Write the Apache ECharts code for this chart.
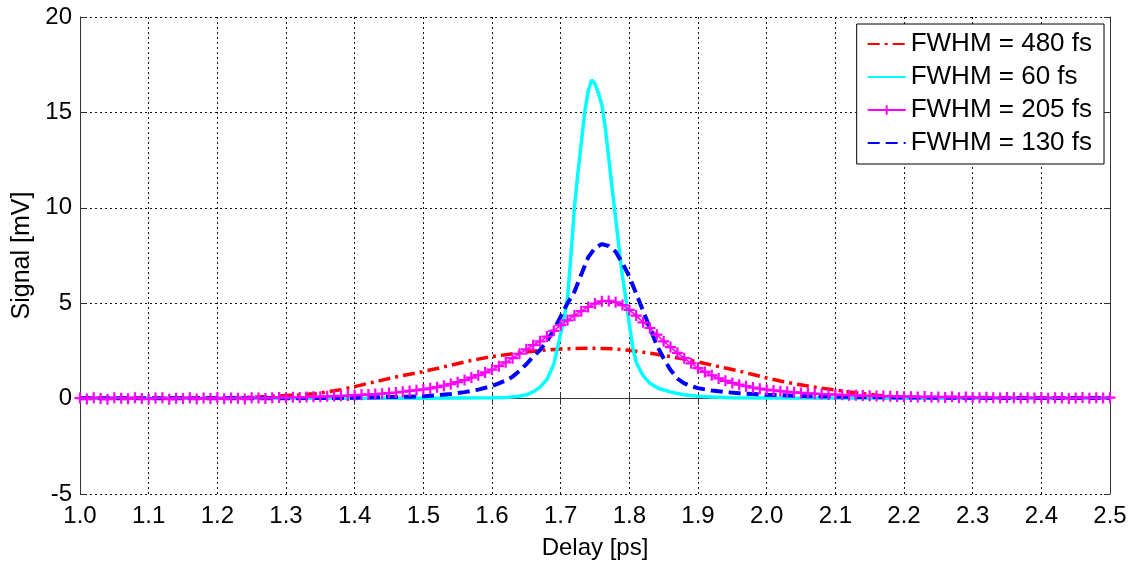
<!DOCTYPE html>
<html><head><meta charset="utf-8">
<script src="https://cdn.jsdelivr.net/npm/echarts@6/dist/echarts.min.js"></script>
<style>html,body{margin:0;padding:0;background:#fff}#c{width:1139px;height:565px}</style>
</head><body><div id="c"></div>
<script>
// ---- data ----
const seriesNames = ['FWHM = 480 fs', 'FWHM = 60 fs', 'FWHM = 205 fs', 'FWHM = 130 fs'];
const xTickLabels = ['1.0','1.1','1.2','1.3','1.4','1.5','1.6','1.7','1.8','1.9','2.0','2.1','2.2','2.3','2.4','2.5'];
const yTickLabels = ['-5','0','5','10','15','20'];

const redT = [1.00,1.10,1.15,1.20,1.22,1.24,1.26,1.28,1.30,1.32,1.34,1.36,1.38,1.40,
  1.42,1.44,1.46,1.48,1.50,1.52,1.54,1.56,1.58,1.60,1.62,1.64,1.66,1.68,1.70,1.72,1.74,1.76,1.78,1.80,
  1.82,1.84,1.86,1.88,1.90,1.92,1.94,1.96,1.98,2.00,2.02,2.04,2.06,2.08,2.10,2.12,2.14,2.16,2.18,2.20,
  2.22,2.25,2.30,2.40,2.50];
const redV = [0.02,0.02,0.02,0.03,0.04,0.06,0.09,0.12,0.16,0.20,0.25,0.35,0.47,0.63,
  0.80,0.97,1.13,1.28,1.42,1.58,1.75,1.92,2.07,2.20,2.30,2.40,2.48,2.55,2.60,2.62,2.64,2.63,2.60,2.53,
  2.43,2.32,2.20,2.07,1.92,1.76,1.60,1.44,1.26,1.08,0.92,0.78,0.66,0.55,0.45,0.35,0.26,0.18,0.12,0.08,
  0.05,0.03,0.02,0.02,0.02];

const cyanT = [1.00,1.20,1.40,1.50,1.55,1.60,1.62,1.64,
  1.65,1.66,1.67,1.68,1.69,1.70,
  1.705,1.71,1.715,1.72,1.725,1.73,1.735,1.74,1.745,1.75,1.755,1.76,1.765,1.77,1.775,1.78,1.785,1.79,1.795,1.80,1.805,1.81,
  1.82,1.83,1.84,1.85,1.86,1.87,1.88,
  1.90,1.92,1.95,2.00,2.20,2.50];
const cyanV = [0.02,0.02,0.02,0.02,0.03,0.04,0.06,0.12,
  0.20,0.35,0.60,1.00,1.80,3.40,
  4.2,5.3,7.5,10.0,11.8,13.4,15.0,16.1,16.7,16.5,16.0,15.4,14.2,12.6,11.0,9.5,7.9,6.4,5.2,3.9,2.7,1.9,
  1.20,0.80,0.58,0.45,0.35,0.27,0.20,
  0.12,0.08,0.05,0.03,0.02,0.02];

const pinkT = [
  1.00,1.01,1.02,1.03,1.04,1.05,1.06,1.07,1.08,1.09,
  1.10,1.11,1.12,1.13,1.14,1.15,1.16,1.17,1.18,1.19,
  1.20,1.21,1.22,1.23,1.24,1.25,1.26,1.27,1.28,1.29,
  1.30,1.31,1.32,1.33,1.34,1.35,1.36,1.37,1.38,1.39,
  1.40,1.41,1.42,1.43,1.44,1.45,1.46,1.47,1.48,1.49,
  1.50,1.51,1.52,1.53,1.54,1.55,1.56,1.57,1.58,1.59,
  1.60,1.61,1.62,1.63,1.64,1.65,1.66,1.67,1.68,1.69,
  1.70,1.71,1.72,1.73,1.74,1.75,1.76,1.77,1.78,1.79,
  1.80,1.81,1.82,1.83,1.84,1.85,1.86,1.87,1.88,1.89,
  1.90,1.91,1.92,1.93,1.94,1.95,1.96,1.97,1.98,1.99,
  2.00,2.01,2.02,2.03,2.04,2.05,2.06,2.07,2.08,2.09,
  2.10,2.11,2.12,2.13,2.14,2.15,2.16,2.17,2.18,2.19,
  2.20,2.21,2.22,2.23,2.24,2.25,2.26,2.27,2.28,2.29,
  2.30,2.31,2.32,2.33,2.34,2.35,2.36,2.37,2.38,2.39,
  2.40,2.41,2.42,2.43,2.44,2.45,2.46,2.47,2.48,2.49,
  2.50];
const pinkV = [
  0.03,-0.02,0.05,0.01,-0.03,0.04,0.02,-0.01,0.05,0.00,
  -0.02,0.03,0.04,-0.03,0.02,0.01,0.05,-0.02,0.03,0.00,
  0.04,-0.01,0.03,0.02,-0.02,0.05,0.03,0.01,0.04,0.06,
  0.05,0.07,0.06,0.08,0.10,0.10,0.12,0.13,0.15,0.16,
  0.18,0.20,0.22,0.24,0.26,0.29,0.32,0.36,0.40,0.44,
  0.48,0.54,0.60,0.68,0.76,0.86,0.97,1.10,1.23,1.37,
  1.52,1.70,1.90,2.12,2.35,2.58,2.80,3.00,3.25,3.55,
  3.85,4.10,4.35,4.58,4.80,4.98,5.10,5.12,5.05,4.90,
  4.65,4.35,4.00,3.70,3.35,3.00,2.70,2.40,2.12,1.85,
  1.60,1.40,1.22,1.06,0.93,0.82,0.73,0.65,0.58,0.52,
  0.47,0.43,0.39,0.36,0.33,0.30,0.28,0.26,0.24,0.22,
  0.21,0.20,0.18,0.17,0.16,0.15,0.14,0.13,0.12,0.11,
  0.10,0.10,0.08,0.11,0.07,0.09,0.06,0.10,0.05,0.08,
  0.06,0.04,0.07,0.05,0.03,0.06,0.04,0.02,0.05,0.03,
  0.06,0.02,0.04,0.05,0.01,0.03,0.06,0.02,0.04,0.03,
  0.05];

const blueT = [1.00,1.10,1.20,1.30,1.35,1.40,1.45,1.48,
  1.50,1.52,1.54,1.56,1.58,
  1.60,1.61,1.62,1.63,1.64,1.65,1.66,1.67,1.68,1.69,1.70,1.71,1.72,1.73,1.74,1.75,1.76,1.77,1.78,1.79,
  1.80,1.81,1.82,1.83,1.84,1.85,1.86,1.87,1.88,1.89,1.90,
  1.92,1.94,1.96,1.98,2.00,
  2.05,2.10,2.20,2.30,2.40,2.50];
const blueV = [0.02,0.02,0.02,0.02,0.03,0.05,0.08,0.10,
  0.12,0.17,0.24,0.34,0.47,
  0.66,0.80,0.95,1.15,1.45,1.80,2.20,2.55,3.00,3.60,4.30,5.00,5.60,6.50,7.40,7.90,8.10,8.00,7.70,7.10,
  6.40,5.50,4.60,3.70,2.80,2.10,1.50,1.05,0.80,0.65,0.55,
  0.42,0.34,0.28,0.24,0.20,
  0.14,0.10,0.06,0.04,0.03,0.03];

// ---- chart ----
const zip = (t, v) => t.map((x, i) => [x, v[i]]);
const FONT = 'Liberation Sans, Arial, sans-serif';
const gridLine = {show: true, lineStyle: {color: '#111', width: 1, type: [2, 3]}};
const axisLineStyle = {show: true, lineStyle: {color: '#333', width: 1}};
const plusPath = 'path://M4,0h2v10h-2z M0,4h10v2h-10z';

const chart = echarts.init(document.getElementById('c'), null, {renderer: 'canvas'});
chart.setOption({
  animation: false,
  backgroundColor: '#fff',
  textStyle: {fontFamily: FONT},
  grid: {left: 80, right: 29, top: 17, bottom: 64, containLabel: false},
  legend: {
    orient: 'vertical', right: 35, top: 24,
    data: seriesNames,
    itemWidth: 38, itemHeight: 12, itemGap: 7,
    padding: [7, 12, 8, 10],
    backgroundColor: '#fff', borderColor: '#000', borderWidth: 1,
    textStyle: {fontSize: 26, color: '#000', fontFamily: FONT}
  },
  xAxis: [{
    type: 'value', min: 1.0, max: 2.5, interval: 0.1,
    name: 'Delay [ps]', nameLocation: 'middle', nameGap: 42,
    nameTextStyle: {fontSize: 24, color: '#000', fontFamily: FONT},
    axisLine: axisLineStyle,
    axisTick: {show: true, inside: true, length: 6, lineStyle: {color: '#333'}},
    axisLabel: {fontSize: 24, color: '#000', margin: 10, fontFamily: FONT,
      formatter: v => xTickLabels[Math.round((v - 1.0) * 10)]},
    splitLine: gridLine
  }, {
    type: 'value', min: 1.0, max: 2.5, interval: 0.1, position: 'top',
    axisLine: axisLineStyle,
    axisTick: {show: true, inside: true, length: 6, lineStyle: {color: '#333'}},
    axisLabel: {show: false}, splitLine: {show: false}
  }],
  yAxis: [{
    type: 'value', min: -5, max: 20, interval: 5,
    name: 'Signal [mV]', nameLocation: 'middle', nameGap: 41,
    nameTextStyle: {fontSize: 25, color: '#000', fontFamily: FONT},
    axisLine: axisLineStyle,
    axisTick: {show: true, inside: true, length: 6, lineStyle: {color: '#333'}},
    axisLabel: {fontSize: 24, color: '#000', margin: 8, fontFamily: FONT,
      formatter: v => yTickLabels[Math.round((v + 5) / 5)]},
    splitLine: gridLine
  }, {
    type: 'value', min: -5, max: 20, interval: 5, position: 'right',
    axisLine: axisLineStyle,
    axisTick: {show: true, inside: true, length: 6, lineStyle: {color: '#333'}},
    axisLabel: {show: false}, splitLine: {show: false}
  }],
  series: [{
    name: seriesNames[0], type: 'line', data: zip(redT, redV), symbol: 'none',
    lineStyle: {color: '#ff0000', width: 3.5, type: [12, 5, 3, 5]}, itemStyle: {color: '#ff0000', opacity: 0}
  }, {
    name: seriesNames[1], type: 'line', data: zip(cyanT, cyanV), symbol: 'none',
    lineStyle: {color: '#00ffff', width: 3.5}, itemStyle: {color: '#00ffff', opacity: 0}
  }, {
    name: seriesNames[2], type: 'line', data: zip(pinkT, pinkV),
    symbol: plusPath, symbolSize: 11, showSymbol: true,
    lineStyle: {color: '#ff00ff', width: 1.5}, itemStyle: {color: '#ff00ff'}
  }, {
    name: seriesNames[3], type: 'line', data: zip(blueT, blueV), symbol: 'none',
    lineStyle: {color: '#0000ff', width: 4, type: [12, 6]}, itemStyle: {color: '#0000ff', opacity: 0}
  }]
});
</script>
</body></html>
